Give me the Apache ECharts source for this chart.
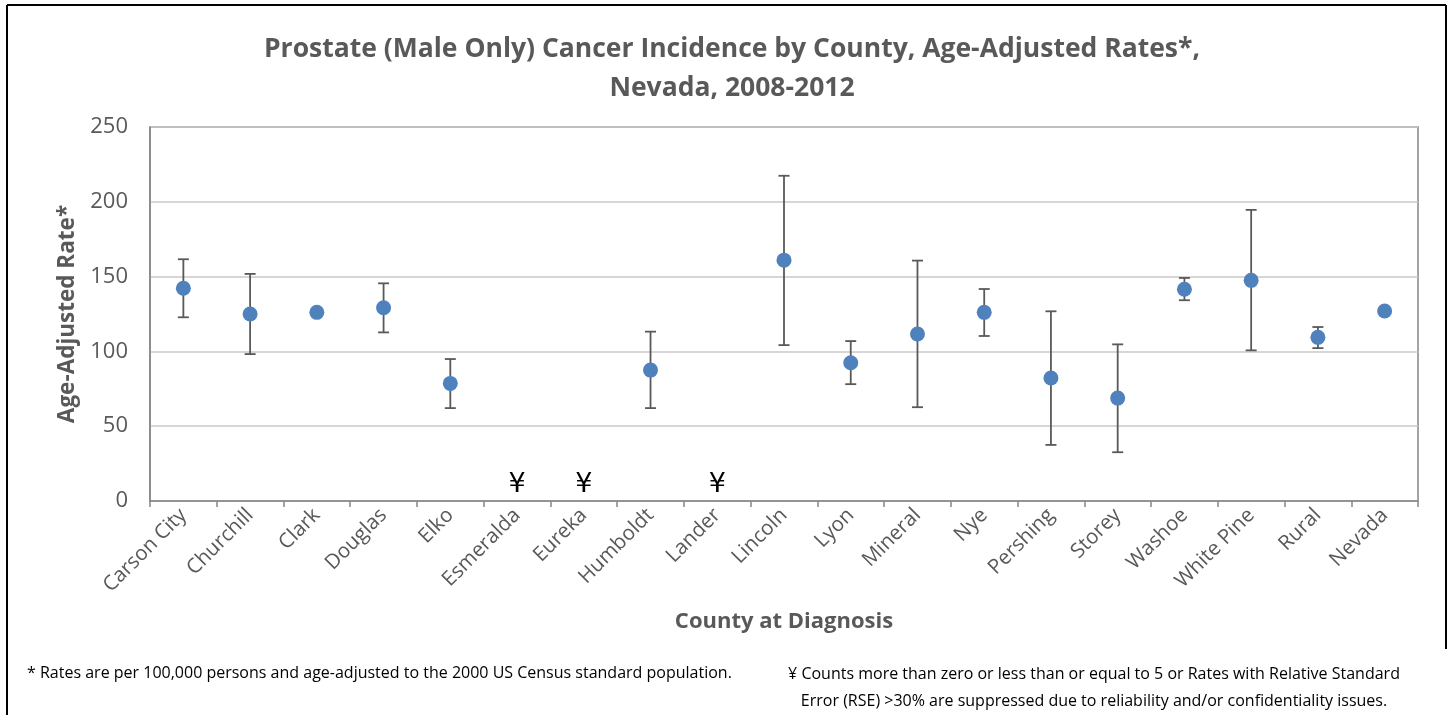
<!DOCTYPE html>
<html>
<head>
<meta charset="utf-8">
<script src="https://cdn.jsdelivr.net/npm/echarts@6/dist/echarts.min.js"></script>
<style>
html,body{margin:0;padding:0;background:#fff;}
#c{width:1453px;height:715px;}
</style>
</head>
<body>
<div id="c"></div>
<script>
const categories = ['Carson City','Churchill','Clark','Douglas','Elko','Esmeralda','Eureka','Humboldt','Lander','Lincoln','Lyon','Mineral','Nye','Pershing','Storey','Washoe','White Pine','Rural','Nevada'];
const rates = [142.2,125.0,126.1,129.2,78.6,null,null,87.5,null,161.0,92.4,111.6,126.1,82.2,68.8,141.5,147.5,109.4,127.0];
const lowerCI = [122.8,98.2,124.6,112.7,62.1,null,null,62.1,null,104.2,78.1,62.7,110.3,37.5,32.6,134.2,100.7,102.2,125.6];
const upperCI = [161.6,151.8,127.7,145.5,94.9,null,null,113.2,null,217.4,106.9,160.7,141.7,126.8,104.7,149.1,194.6,116.3,128.4];
const suppressed = ['Esmeralda','Eureka','Lander'];
const suppressedMarkY = 12;
const yTicks = [0,50,100,150,200,250];

const FONT = '"Open Sans", Lato, sans-serif';
const chart = echarts.init(document.getElementById('c'));

const pointData = categories.map((c,i)=> rates[i]==null ? null : [c, rates[i]]).filter(d=>d);
const errData = categories.map((c,i)=> rates[i]==null ? null : [c, lowerCI[i], upperCI[i]]).filter(d=>d);
const supData = suppressed.map(c=>[c, suppressedMarkY]);

chart.setOption({
  animation:false,
  backgroundColor:'#fff',
  title:{
    text:'Prostate (Male Only) Cancer Incidence by County, Age-Adjusted Rates*,\nNevada, 2008-2012',
    left:727, top:25, textAlign:'center',
    textStyle:{fontFamily:FONT,fontSize:26.5,fontWeight:'bold',color:'#595959',lineHeight:39}
  },
  grid:{left:150,right:35,top:127,bottom:214,show:true,borderColor:'#868686',borderWidth:1.5},
  xAxis:{
    type:'category',data:categories,boundaryGap:true,
    name:'County at Diagnosis',nameLocation:'middle',nameGap:110,
    nameTextStyle:{fontFamily:FONT,fontSize:22,fontWeight:'bold',color:'#595959'},
    axisLine:{lineStyle:{color:'#868686',width:1.5}},
    axisTick:{show:true,alignWithLabel:false,length:6,lineStyle:{color:'#868686',width:1.5}},
    axisLabel:{rotate:45,interval:0,fontFamily:FONT,fontSize:20.5,color:'#595959',margin:11},
    splitLine:{show:false}
  },
  yAxis:{
    type:'value',min:0,max:250,interval:50,
    name:'Age-Adjusted Rate*',nameLocation:'middle',nameGap:68,
    nameTextStyle:{fontFamily:FONT,fontSize:22.5,fontWeight:'bold',color:'#595959'},
    axisLine:{show:true,lineStyle:{color:'#868686',width:1.5}},
    axisTick:{show:false},
    axisLabel:{fontFamily:FONT,fontSize:22,color:'#595959',margin:22,
      formatter:v=> yTicks.indexOf(v)>=0 ? String(v) : ''},
    splitLine:{lineStyle:{color:'#c8c8c8',width:1.5}}
  },
  series:[
    {
      type:'custom',
      data:errData,
      z:2,
      renderItem:function(params,api){
        const x = api.value(0);
        const lo = api.coord([x, api.value(1)]);
        const hi = api.coord([x, api.value(2)]);
        const w = 5.5;
        const st = {stroke:'#595959',lineWidth:1.8,fill:null};
        return {type:'group',children:[
          {type:'line',shape:{x1:lo[0],y1:lo[1],x2:hi[0],y2:hi[1]},style:st},
          {type:'line',shape:{x1:lo[0]-w,y1:lo[1],x2:lo[0]+w,y2:lo[1]},style:st},
          {type:'line',shape:{x1:hi[0]-w,y1:hi[1],x2:hi[0]+w,y2:hi[1]},style:st}
        ]};
      }
    },
    {
      type:'scatter',
      data:pointData,
      symbol:'circle',symbolSize:15,
      itemStyle:{color:'#4f81bd',opacity:1},
      z:3
    },
    {
      type:'custom',
      data:supData,
      z:4,
      renderItem:function(params,api){
        const p = api.coord([api.value(0), api.value(1)]);
        return {type:'text',x:p[0],y:p[1]+2,style:{text:'¥',fontFamily:'"DejaVu Sans", sans-serif',fontSize:27,fontWeight:'normal',fill:'#000',align:'center',verticalAlign:'middle'}};
      }
    }
  ],
  graphic:[
    {type:'line',shape:{x1:7,y1:5,x2:1446,y2:5},style:{stroke:'#000',lineWidth:2}},
    {type:'line',shape:{x1:7,y1:5,x2:7,y2:715},style:{stroke:'#000',lineWidth:2}},
    {type:'line',shape:{x1:1446,y1:5,x2:1446,y2:649},style:{stroke:'#000',lineWidth:2}},
    {type:'text',x:27,y:665,style:{text:'* Rates are per 100,000 persons and age-adjusted to the 2000 US Census standard population.',fontFamily:FONT,fontSize:16,fill:'#000'}},
    {type:'text',x:1094,y:661,style:{text:'¥ Counts more than zero or less than or equal to 5 or Rates with Relative Standard\nError (RSE) >30% are suppressed due to reliability and/or confidentiality issues.',fontFamily:FONT,fontSize:16,fill:'#000',align:'center',lineHeight:27}}
  ]
});
</script>
</body>
</html>
